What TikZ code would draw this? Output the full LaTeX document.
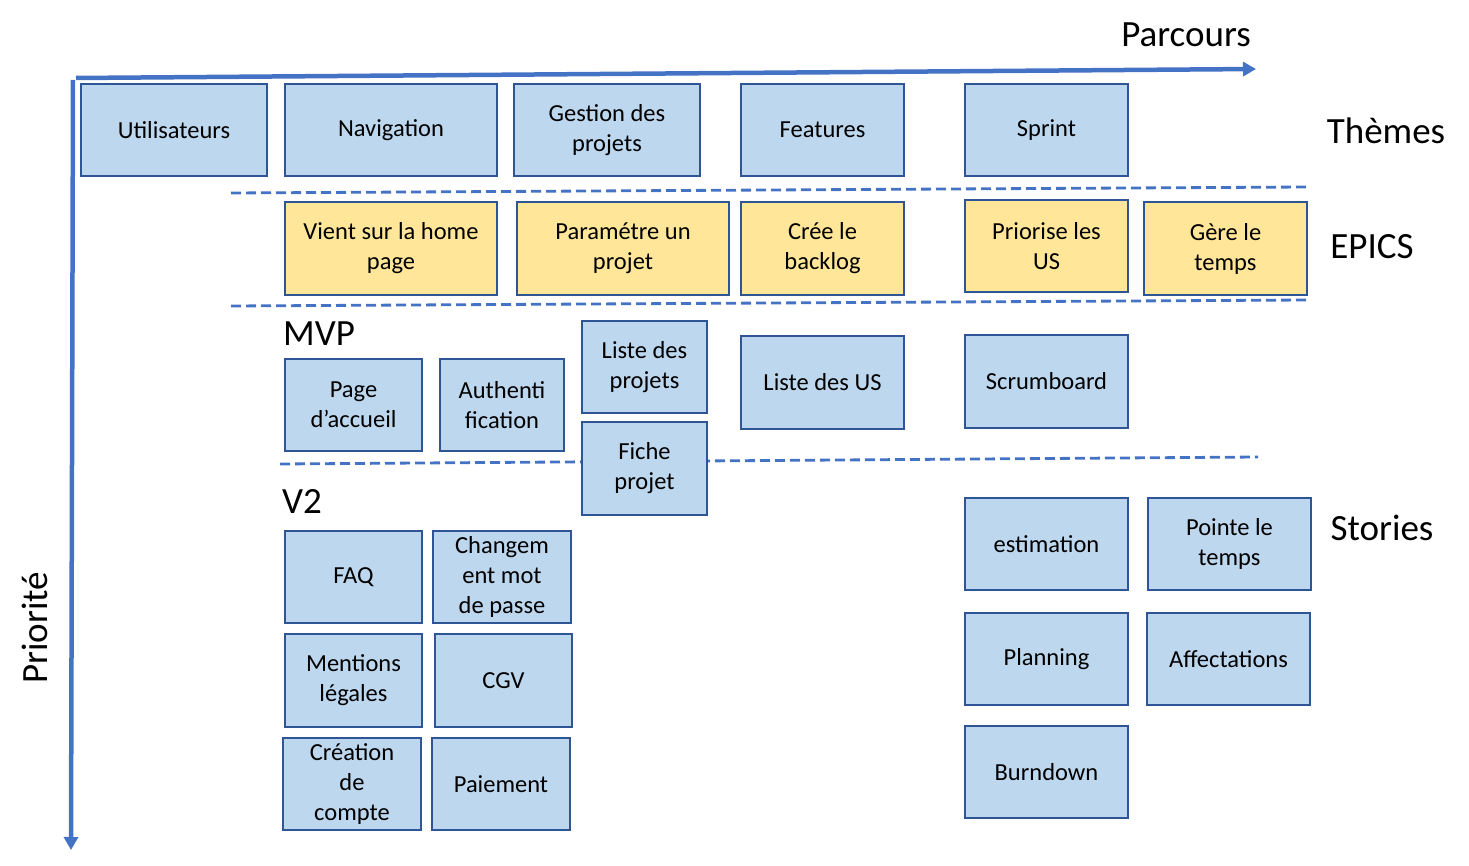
\documentclass[tikz,border=0pt]{standalone}
\usepackage{fontspec}
\setmainfont{Carlito}
\usetikzlibrary{arrows.meta}
\definecolor{axisblue}{HTML}{4472C4}
\definecolor{boxfill}{HTML}{BDD7EE}
\definecolor{boxline}{HTML}{2F5597}
\definecolor{epicfill}{HTML}{FFE699}
\tikzset{
  card/.style={draw=boxline, line width=2.2pt, fill=boxfill, inner sep=0pt, align=center,
    font=\fontsize{24.5}{30}\selectfont},
  epic/.style={card, fill=epicfill},
  sep/.style={draw=axisblue, line width=2.8pt, dash pattern=on 10pt off 5pt},
  axis/.style={draw=axisblue, line width=4.5pt, -{Triangle[length=13pt,width=14pt]}},
  biglabel/.style={font=\fontsize{37}{44}\selectfont, inner sep=0pt},
}
\begin{document}
\begin{tikzpicture}[x=1pt,y=-1pt]
\useasboundingbox (0,0) rectangle (1469,866);
% separators
\coordinate (s1a) at (231,193); \coordinate (s1b) at (1307,187);
\coordinate (s2a) at (231,306); \coordinate (s2b) at (1307,300);
\coordinate (s3a) at (280,464); \coordinate (s3b) at (1258,457);
\draw[sep] (s1a) -- (s1b);
\draw[sep] (s2a) -- (s2b);
\draw[sep] (s3a) -- (s3b);
% axes
\coordinate (hx0) at (76,78); \coordinate (hx1) at (1256,69);
\coordinate (vy0) at (73,80); \coordinate (vy1) at (71,850);
\draw[axis] (hx0) -- (hx1);
\draw[axis] (vy0) -- (vy1);
% labels
\node[biglabel] (parcours) at (1186,35) {Parcours};
\node[biglabel] (themes) at (1386,131) {Thèmes};
\node[biglabel] (epics) at (1372,247) {EPICS};
\node[biglabel] (stories) at (1382,528) {Stories};
\node[biglabel, anchor=west] (mvp) at (283,334) {MVP};
\node[biglabel, anchor=west] (v2) at (282,501) {V2};
\node[biglabel, rotate=90] (prio) at (35,628) {Priorité};
% themes
\node[card, minimum width=186pt, minimum height=92pt] (utilisateurs) at (174,130) {Utilisateurs};
\node[card, minimum width=212pt, minimum height=92pt] (navigation) at (391,130) {Navigation};
\node[card, minimum width=186pt, minimum height=92pt] (gestion) at (607,130) {Gestion des\\projets};
\node[card, minimum width=163pt, minimum height=92pt] (features) at (822.5,130) {Features};
\node[card, minimum width=163pt, minimum height=92pt] (sprint) at (1046.5,130) {Sprint};
% epics
\node[epic, minimum width=212pt, minimum height=93pt] (vient) at (391,248.5) {Vient sur la home\\page};
\node[epic, minimum width=212pt, minimum height=93pt] (parametre) at (623,248.5) {Paramétre un\\projet};
\node[epic, minimum width=163pt, minimum height=93pt] (cree) at (822.5,248.5) {Crée le\\backlog};
\node[epic, minimum width=163pt, minimum height=92pt] (priorise) at (1046.5,246) {Priorise les\\US};
\node[epic, minimum width=163pt, minimum height=93pt] (gere) at (1225.5,248.5) {Gère le\\temps};
% MVP stories
\node[card, minimum width=137pt, minimum height=92pt] (accueil) at (353.5,405) {Page\\d’accueil};
\node[card, minimum width=124pt, minimum height=92pt] (authent) at (502,405) {Authenti\\fication};
\node[card, minimum width=125pt, minimum height=92pt] (listeprojets) at (644.5,367) {Liste des\\projets};
\node[card, minimum width=163pt, minimum height=93pt] (listeus) at (822.5,382.5) {Liste des US};
\node[card, minimum width=163pt, minimum height=93pt] (scrumboard) at (1046.5,381.5) {Scrumboard};
\node[card, minimum width=125pt, minimum height=93pt] (fiche) at (644.5,468.5) {Fiche\\projet};
% V2 stories
\node[card, minimum width=137pt, minimum height=92pt] (faq) at (353.5,577) {FAQ};
\node[card, minimum width=138pt, minimum height=92pt] (changement) at (502,577) {Changem\\ent mot\\de passe};
\node[card, minimum width=137pt, minimum height=93pt] (mentions) at (353.5,680.5) {Mentions\\légales};
\node[card, minimum width=137pt, minimum height=93pt] (cgv) at (503.5,680.5) {CGV};
\node[card, minimum width=138pt, minimum height=92pt] (creation) at (352,784) {Création\\de\\compte};
\node[card, minimum width=138pt, minimum height=92pt] (paiement) at (501,784) {Paiement};
\node[card, minimum width=163pt, minimum height=92pt] (estimation) at (1046.5,544) {estimation};
\node[card, minimum width=163pt, minimum height=92pt] (pointe) at (1229.5,544) {Pointe le\\temps};
\node[card, minimum width=163pt, minimum height=92pt] (planning) at (1046.5,659) {Planning};
\node[card, minimum width=163pt, minimum height=92pt] (affectations) at (1228.5,659) {Affectations};
\node[card, minimum width=163pt, minimum height=92pt] (burndown) at (1046.5,772) {Burndown};
\end{tikzpicture}
\end{document}
